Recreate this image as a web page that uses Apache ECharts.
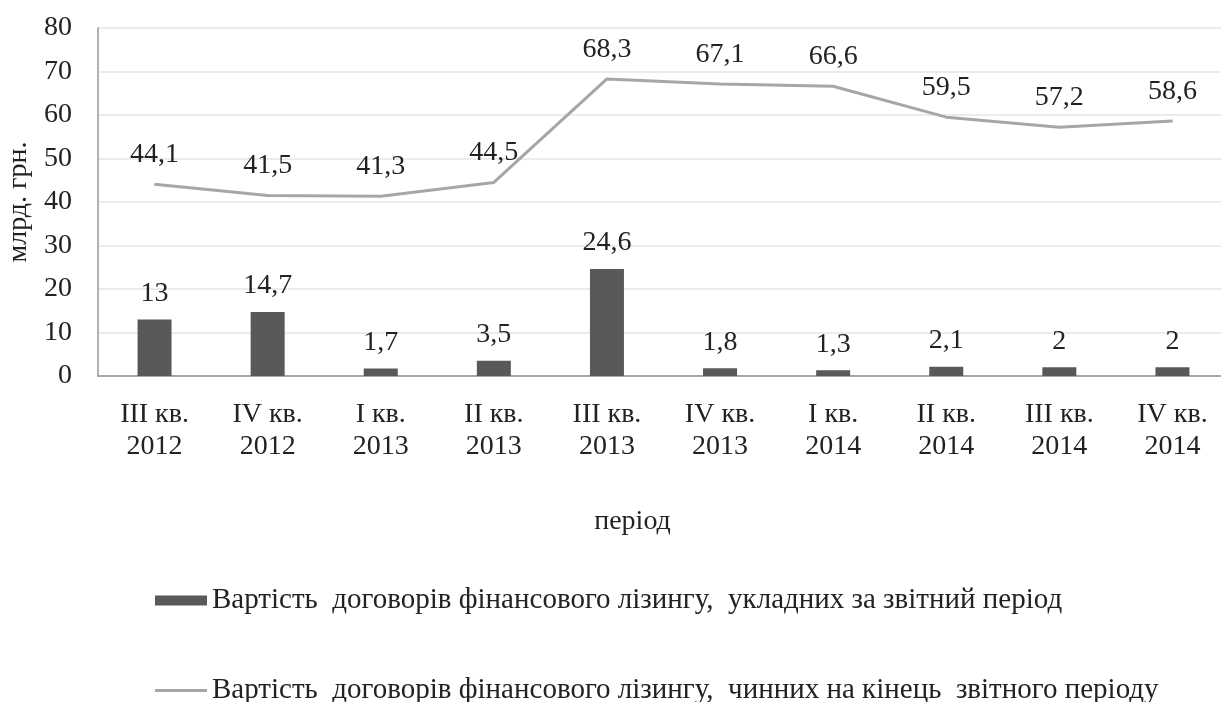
<!DOCTYPE html>
<html><head><meta charset="utf-8">
<script src="https://cdn.jsdelivr.net/npm/echarts@6/dist/echarts.min.js"></script>
<style>html,body{margin:0;padding:0;background:#fff}#c{width:1221px;height:702px}</style>
</head><body><div id="c"></div>
<script>
const categories = ['III кв.\n2012','IV кв.\n2012','I кв.\n2013','II кв.\n2013','III кв.\n2013','IV кв.\n2013','I кв.\n2014','II кв.\n2014','III кв.\n2014','IV кв.\n2014'];
const concluded = [13, 14.7, 1.7, 3.5, 24.6, 1.8, 1.3, 2.1, 2, 2];
const active = [44.1, 41.5, 41.3, 44.5, 68.3, 67.1, 66.6, 59.5, 57.2, 58.6];
const seriesNames = ['Вартість  договорів фінансового лізингу,  укладних за звітний період', 'Вартість  договорів фінансового лізингу,  чинних на кінець  звітного періоду'];
const font = 'Liberation Serif';
const fs = 28;
const txt = '#222';
const fmt = p => String(p.value).replace('.', ',');
const chart = echarts.init(document.getElementById('c'));
chart.setOption({
  animation: false,
  textStyle: {fontFamily: font},
  grid: {left: 98, width: 1131, top: 28, bottom: 326, containLabel: false, outerBoundsMode: 'none'},
  legend: [
    {left: 155, top: 586, padding: 0, itemWidth: 52, itemHeight: 10, data: [{name: seriesNames[0], icon: 'rect'}], textStyle: {fontFamily: font, fontSize: 29, color: txt}},
    {left: 155, top: 676, padding: 0, itemWidth: 52, itemHeight: 3, data: [{name: seriesNames[1], icon: 'rect', itemStyle: {color: '#a6a6a6'}}], textStyle: {fontFamily: font, fontSize: 29, color: txt}}
  ],
  xAxis: {
    type: 'category', data: categories,
    name: 'період', nameLocation: 'middle', nameGap: 132,
    nameTextStyle: {fontFamily: font, fontSize: fs, color: txt, padding: [0, 62, 0, 0]},
    axisLine: {lineStyle: {color: '#a6a6a6', width: 2}},
    axisTick: {show: false},
    axisLabel: {fontFamily: font, fontSize: fs, color: txt, lineHeight: 32, margin: 23}
  },
  yAxis: {
    type: 'value', min: 0, max: 80, interval: 10,
    name: 'млрд. грн.', nameLocation: 'middle', nameGap: 45,
    nameTextStyle: {fontFamily: font, fontSize: fs, color: txt},
    axisLine: {show: true, lineStyle: {color: '#999', width: 1.5}},
    axisTick: {show: false},
    axisLabel: {fontFamily: font, fontSize: fs, color: txt, margin: 26},
    splitLine: {lineStyle: {color: '#ececec', width: 2}}
  },
  series: [
    {name: seriesNames[0], type: 'bar', data: concluded, barWidth: 34,
     itemStyle: {color: '#595959'},
     label: {show: true, position: 'top', distance: 12, formatter: fmt, fontFamily: font, fontSize: fs, color: txt}},
    {name: seriesNames[1], type: 'line', data: active, symbol: 'circle', symbolSize: 1,
     lineStyle: {color: '#a6a6a6', width: 3}, itemStyle: {color: '#a6a6a6'},
     label: {show: true, position: 'top', distance: 15, formatter: fmt, fontFamily: font, fontSize: fs, color: txt}}
  ]
});
</script></body></html>
